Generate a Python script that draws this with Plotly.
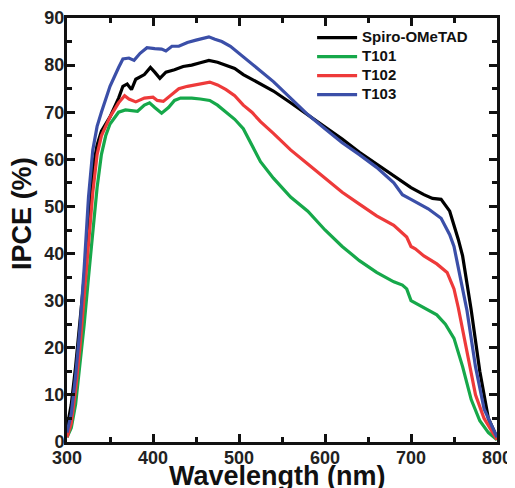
import plotly.graph_objects as go

# Spiro-OMeTAD (black)
spiro_wl = [300, 305, 310, 315, 320, 325, 330, 335, 340, 350, 360, 365, 370, 375, 380, 390, 397, 402, 408, 415, 425, 435, 445, 455, 465, 475, 485, 495, 505, 515, 525, 540, 560, 580, 600, 620, 640, 660, 680, 700, 715, 725, 735, 745, 755, 760, 770, 780, 790, 800]
spiro_ipce = [3, 8, 16, 25, 35, 47, 58, 63, 66, 69, 73, 75.5, 76, 74.8, 77, 78, 79.5, 78.5, 77.2, 78.5, 79, 79.7, 80, 80.5, 81, 80.6, 80, 79.3, 78, 77, 76, 74.5, 72, 69.5, 67, 64.3, 61.5, 59, 56.5, 54, 52.5, 51.7, 51.5, 49, 43, 39.5, 28, 15, 5, 1]

# T101 (green)
t101_wl = [300, 305, 310, 315, 320, 325, 330, 335, 340, 345, 350, 360, 368, 375, 382, 390, 396, 402, 410, 418, 425, 432, 445, 455, 466, 475, 485, 495, 505, 515, 525, 540, 560, 580, 600, 620, 640, 660, 680, 690, 695, 700, 710, 720, 730, 740, 750, 760, 770, 780, 790, 800]
t101_ipce = [1, 3, 8, 16, 25, 35, 45, 54, 61, 65, 67.5, 70, 70.5, 70.3, 70.2, 71.5, 72, 71, 69.8, 71, 72.5, 73, 73, 72.8, 72.5, 71.5, 70, 68.5, 66.5, 63, 59.5, 56, 52, 49, 45, 41.5, 38.5, 36, 34, 33.3, 32.5, 30, 29, 28, 27, 25, 22, 16, 9, 4.5, 2, 0.5]

# T102 (red)
t102_wl = [300, 305, 310, 315, 320, 325, 330, 335, 340, 350, 360, 367, 372, 380, 390, 400, 405, 412, 420, 430, 440, 450, 460, 466, 475, 485, 495, 505, 515, 525, 540, 560, 580, 600, 620, 640, 660, 680, 695, 700, 705, 715, 730, 742, 750, 755, 765, 775, 785, 800]
t102_ipce = [1, 4, 11, 20, 31, 42, 53, 61, 65, 69, 72, 73.5, 72.8, 72.2, 73, 73.2, 72.5, 72.3, 73.5, 75, 75.5, 75.8, 76.2, 76.4, 75.8, 74.8, 73.5, 71.5, 70, 68, 65.5, 62, 59, 56, 53, 50.5, 48, 46, 43.5, 41.5, 41, 39.5, 37.8, 36, 32.5, 28.5, 19, 10, 5, 0.5]

# T103 (blue)
t103_wl = [300, 305, 310, 315, 320, 325, 330, 335, 340, 350, 360, 365, 372, 378, 385, 393, 402, 410, 415, 422, 430, 440, 450, 460, 465, 472, 480, 490, 500, 510, 520, 540, 560, 580, 600, 620, 640, 660, 680, 690, 700, 720, 735, 745, 750, 755, 765, 775, 785, 800]
t103_ipce = [2, 6, 14, 24, 37, 52, 62, 67, 70, 75.5, 79.5, 81.3, 81.5, 81, 82.5, 83.7, 83.5, 83.4, 83, 84, 84, 84.8, 85.3, 85.8, 86, 85.5, 85, 84, 82.5, 81, 79.5, 76.5, 73, 69.5, 66.5, 63.5, 61, 58.3, 55, 52.5, 51.5, 49.5, 47.5, 44, 41.5, 37, 28, 16, 7, 1]

series_names = ["Spiro-OMeTAD", "T101", "T102", "T103"]
series_colors = ["#000000", "#16a84a", "#ee3a3a", "#3b4fa8"]
x_ticks = [300, 400, 500, 600, 700, 800]
y_ticks = [0, 10, 20, 30, 40, 50, 60, 70, 80, 90]
x_title = "Wavelength (nm)"
y_title = "IPCE (%)"

FONT = "Liberation Sans, Arial"
fig = go.Figure()
data = [(spiro_wl, spiro_ipce), (t101_wl, t101_ipce), (t102_wl, t102_ipce), (t103_wl, t103_ipce)]
for (wl, v), name, col in zip(data, series_names, series_colors):
    fig.add_trace(go.Scatter(x=wl, y=v, mode="lines",
                             name="<span style='font-size:15px'>%s</span>" % name,
                             line=dict(color=col, width=3.2)))

tickfont = dict(family=FONT, size=18, color="#222", weight="bold")
minor_common = dict(ticks="inside", ticklen=5, tickwidth=2.5, tickcolor="#111")
# page body has an 8px margin, so the figure is sized to fit the 515x488 window
fig.update_layout(
    width=507, height=480,
    margin=dict(l=59, r=18, t=10, b=46, autoexpand=False),
    paper_bgcolor="white", plot_bgcolor="white",
    showlegend=True,
    legend=dict(x=0.57, y=0.988, xanchor="left", yanchor="top",
                bgcolor="rgba(0,0,0,0)", tracegroupgap=0,
                font=dict(family=FONT, size=12, color="#111", weight="bold"),
                itemwidth=40),
    xaxis=dict(range=[300, 800], tickvals=x_ticks, ticks="inside", ticklen=8, tickwidth=2.5,
               tickcolor="#111", showline=True, linecolor="#111", linewidth=3, mirror="ticks",
               showgrid=False, zeroline=False, tickfont=tickfont, automargin=False,
               ticklabelstandoff=-3,
               minor=dict(dtick=50, **minor_common)),
    yaxis=dict(range=[0, 90], tickvals=y_ticks, ticks="inside", ticklen=8, tickwidth=2.5,
               tickcolor="#111", showline=True, linecolor="#111", linewidth=3, mirror="ticks",
               showgrid=False, zeroline=False, tickfont=tickfont, automargin=False,
               ticklabelstandoff=-4,
               minor=dict(dtick=5, **minor_common)),
    annotations=[
        dict(text=x_title, xref="paper", yref="paper", x=0.49, y=-0.081, xanchor="center",
             yanchor="middle", showarrow=False,
             font=dict(family=FONT, size=27, color="#111", weight="bold")),
        dict(text=y_title, xref="paper", yref="paper", x=-0.105, y=0.54, xanchor="center",
             yanchor="middle", showarrow=False, textangle=-90,
             font=dict(family=FONT, size=27, color="#111", weight="bold")),
    ],
)
fig.write_html("out.html")
